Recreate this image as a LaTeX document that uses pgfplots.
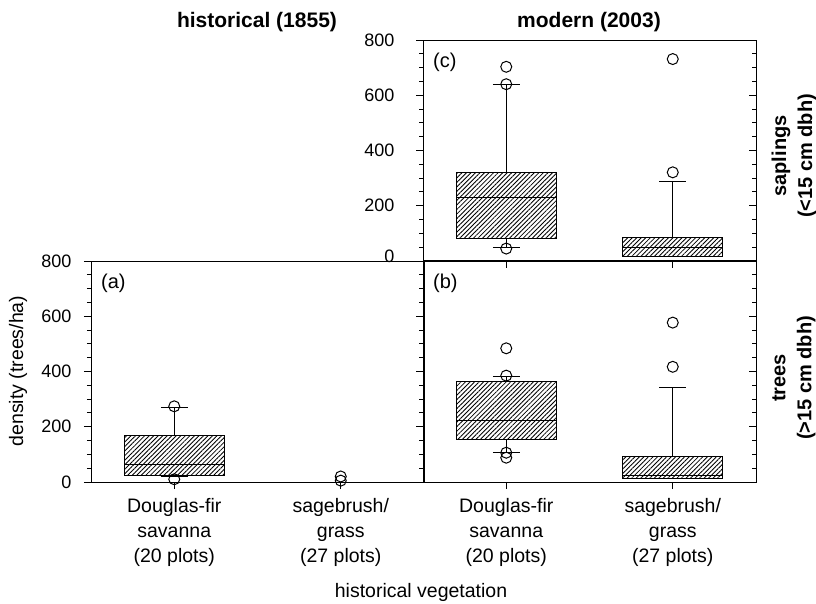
\documentclass[border=0pt]{standalone}
\usepackage{fontspec}
\setmainfont{Liberation Sans}
\usepackage{pgfplots}
\pgfplotsset{compat=1.18}
\usepgfplotslibrary{statistics}
\usetikzlibrary{patterns.meta}

\newcommand\ftick{\fontsize{18}{21}\selectfont}
\newcommand\fcat{\fontsize{19.5}{25}\selectfont}
\newcommand\ftitle{\fontsize{21}{25}\selectfont\bfseries}
\newcommand\fside{\fontsize{20}{26}\selectfont\bfseries}
\newcommand\fpan{\fontsize{20}{24}\selectfont}

\pgfplotsset{
  panel/.style={
    scale only axis, width=333pt, height=221pt, anchor=south west,
    xmin=0.5, xmax=2.5, ymin=0, ymax=800, clip=false,
    xtick={1,2}, xtick pos=lower,
    ytick={0,200,400,600,800}, minor y tick num=3,
    ytick pos=left, tick align=outside,
    major tick length=7pt, minor tick length=4pt,
    axis line style={line width=1pt},
    every tick/.style={black, line width=0.9pt},
    tick label style={font=\ftick},
    yticklabel style={xshift=-9pt},
    /pgf/number format/assume math mode=true,
    boxplot/draw direction=y,
    boxplot/every box/.style={draw=black, line width=1pt,
      pattern={Lines[angle=45,distance=3.2pt,line width=0.85pt]}, pattern color=black},
    boxplot/every median/.style={draw=black, line width=1pt},
    boxplot/every whisker/.style={draw=black, line width=1pt},
  },
  rtick/.style={
    scale only axis, width=333pt, height=221pt, anchor=south west,
    xmin=0.5, xmax=2.5, ymin=0, ymax=800,
    xtick=\empty, ytick={0,200,400,600,800}, minor y tick num=3,
    ytick pos=right, tick align=inside, yticklabels={},
    major tick length=7pt, minor tick length=4pt,
    axis line style={line width=1pt},
    every tick/.style={black, line width=0.9pt},
  },
  bx/.style={black, line width=1pt, mark=o, mark size=5.5pt,
    mark options={line width=1pt, black}},
}

\begin{document}
\begin{tikzpicture}
\path[use as bounding box] (0,0) rectangle (816pt,603pt);

% ---------- panel (a): historical trees ----------
\begin{axis}[panel, at={(91pt,121pt)},
  xticklabels={{Douglas-fir\\savanna\\(20 plots)},{sagebrush/\\grass\\(27 plots)}},
  xticklabel style={align=center, font=\fcat, yshift=-6pt}]
\addplot[bx, boxplot prepared={draw position=1, lower whisker=20, lower quartile=24,
  median=63, upper quartile=168, upper whisker=268, box extend=0.6, whisker extend=0.16}]
  table[row sep=\\, y index=0] {274\\10\\};
\addplot[bx, boxplot prepared={draw position=2, lower whisker=0, lower quartile=0,
  median=0, upper quartile=0, upper whisker=0, box extend=0.16, whisker extend=0.16}]
  table[row sep=\\, y index=0] {20\\5\\};
\node[anchor=north west, font=\fpan, inner sep=0pt, xshift=10pt, yshift=-13pt] at (rel axis cs:0,1) {(a)};
\end{axis}

% ---------- panel (b): modern trees ----------
\begin{axis}[panel, at={(423pt,121pt)}, yticklabels={},
  xticklabels={{Douglas-fir\\savanna\\(20 plots)},{sagebrush/\\grass\\(27 plots)}},
  xticklabel style={align=center, font=\fcat, yshift=-6pt}]
\addplot[bx, boxplot prepared={draw position=1, lower whisker=106, lower quartile=155,
  median=223, upper quartile=365, upper whisker=383, box extend=0.6, whisker extend=0.16}]
  table[row sep=\\, y index=0] {484\\385\\106\\88\\};
\addplot[bx, boxplot prepared={draw position=2, lower whisker=13, lower quartile=13,
  median=22, upper quartile=93, upper whisker=343, box extend=0.6, whisker extend=0.16}]
  table[row sep=\\, y index=0] {577\\417\\};
\node[anchor=north west, font=\fpan, inner sep=0pt, xshift=10pt, yshift=-13pt] at (rel axis cs:0,1) {(b)};
\end{axis}
\begin{axis}[rtick, at={(423pt,121pt)}]
\end{axis}

% ---------- panel (c): modern saplings ----------
\begin{axis}[panel, at={(423pt,342pt)}, xticklabels={},
  yticklabel style={xshift=-9pt, yshift={ifthenelse(\ticknum==0,5,0)}}]
\addplot[bx, boxplot prepared={draw position=1, lower whisker=48, lower quartile=82,
  median=231, upper quartile=321, upper whisker=640, box extend=0.6, whisker extend=0.16}]
  table[row sep=\\, y index=0] {703\\640\\45\\};
\addplot[bx, boxplot prepared={draw position=2, lower whisker=18, lower quartile=18,
  median=50, upper quartile=86, upper whisker=286, box extend=0.6, whisker extend=0.16}]
  table[row sep=\\, y index=0] {731\\321\\};
\node[anchor=north west, font=\fpan, inner sep=0pt, xshift=10pt, yshift=-13pt] at (rel axis cs:0,1) {(c)};
\end{axis}
\begin{axis}[rtick, at={(423pt,342pt)}]
\end{axis}

% ---------- titles and labels ----------
\node[anchor=base, font=\ftitle] at (257pt,575pt) {historical (1855)};
\node[anchor=base, font=\ftitle] at (589pt,575pt) {modern (2003)};
\node[rotate=90, align=center, font=\fside] at (794pt,447pt) {saplings\\(<15 cm dbh)};
\node[rotate=90, align=center, font=\fside] at (794pt,225pt) {trees\\(>15 cm dbh)};
\node[rotate=90, font=\fcat] at (18pt,232pt) {density (trees/ha)};
\node[anchor=base, font=\fcat] at (421pt,6pt) {historical vegetation};
\end{tikzpicture}
\end{document}
